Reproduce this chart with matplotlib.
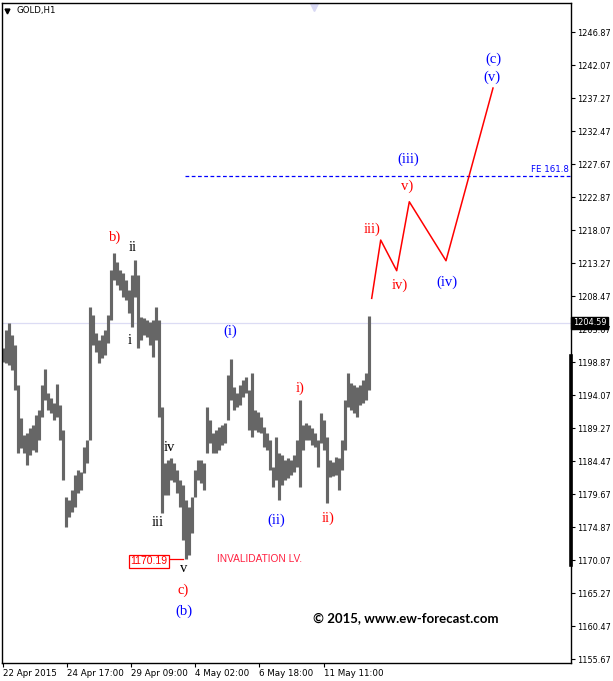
import numpy as np
import matplotlib.pyplot as plt
from matplotlib.transforms import blended_transform_factory

# GOLD H1 bars (3-hour groups), high / low
highs = [1200.90, 1203.52, 1204.54, 1202.79, 1201.34, 1195.52, 1190.72, 1188.25, 1188.54, 1189.27,
         1189.70, 1191.16, 1191.88, 1195.52, 1197.85, 1194.36, 1193.63, 1192.90, 1195.67, 1192.61,
         1188.97, 1179.23, 1178.79, 1180.25, 1182.43, 1183.16, 1182.87, 1186.50, 1187.52, 1206.87,
         1205.70, 1203.08, 1202.07, 1202.79, 1203.52, 1205.70, 1212.25, 1214.72, 1213.41, 1212.25,
         1211.81, 1210.79, 1209.34, 1211.52, 1213.70, 1211.52, 1205.41, 1205.27, 1204.97, 1204.68,
         1204.97, 1206.87, 1204.97, 1192.32, 1184.17, 1184.61, 1184.90, 1184.17, 1183.16, 1181.70,
         1180.97, 1178.79, 1177.77, 1179.23, 1183.16, 1184.61, 1184.61, 1184.17, 1192.32, 1190.43,
         1188.54, 1188.97, 1189.41, 1189.70, 1189.99, 1196.97, 1199.30, 1195.23, 1194.36, 1195.52,
         1196.25, 1196.68, 1194.79, 1197.27, 1191.88, 1191.59, 1190.87, 1189.41, 1188.54, 1187.52,
         1183.59, 1187.96, 1185.63, 1185.34, 1184.61, 1184.90, 1184.61, 1185.34, 1187.52, 1193.34,
         1189.70, 1189.99, 1189.70, 1189.27, 1188.54, 1187.52, 1191.45, 1190.43, 1187.96, 1184.61,
         1184.32, 1185.05, 1184.90, 1187.52, 1193.34, 1197.27, 1195.81, 1195.52, 1195.23, 1195.52,
         1196.25, 1197.27, 1205.56]
lows = [1198.87, 1198.72, 1198.43, 1197.70, 1194.79, 1185.63, 1186.36, 1185.63, 1183.88, 1185.34,
        1186.07, 1185.77, 1187.52, 1190.87, 1193.34, 1191.88, 1191.45, 1190.43, 1190.87, 1187.52,
        1181.70, 1174.87, 1176.32, 1177.05, 1177.77, 1179.81, 1180.25, 1182.72, 1184.17, 1187.52,
        1201.34, 1200.32, 1198.72, 1199.45, 1199.88, 1201.63, 1204.97, 1210.79, 1210.07, 1209.34,
        1208.32, 1207.88, 1205.99, 1203.96, 1208.32, 1200.90, 1202.07, 1202.79, 1202.50, 1201.34,
        1199.59, 1202.07, 1190.87, 1176.90, 1179.52, 1179.52, 1181.70, 1181.41, 1179.81, 1177.77,
        1172.97, 1170.19, 1170.79, 1173.99, 1179.23, 1181.70, 1181.27, 1180.25, 1185.63, 1187.08,
        1185.63, 1185.63, 1186.07, 1186.79, 1187.08, 1190.43, 1193.34, 1191.88, 1192.32, 1192.61,
        1193.77, 1194.36, 1188.97, 1187.96, 1188.97, 1188.68, 1188.54, 1186.50, 1186.07, 1183.16,
        1180.68, 1181.70, 1178.79, 1180.97, 1181.70, 1181.99, 1182.43, 1182.87, 1183.59, 1180.68,
        1186.07, 1187.52, 1187.52, 1186.79, 1186.50, 1183.59, 1187.08, 1186.07, 1178.36, 1182.14,
        1182.28, 1182.43, 1180.25, 1183.16, 1186.07, 1192.32, 1191.88, 1191.45, 1190.87, 1192.61,
        1192.90, 1193.34, 1194.79]
last_price = 1204.59
invalidation = 1170.19
fe_level = 1225.92

# projected path (hour index, price)
path_hours = [368.7, 377.7, 393.7, 406.3, 443.0, 490.0]
path_prices = [1208.13, 1216.61, 1212.15, 1222.18, 1213.60, 1238.72]

ytick_vals = [1155.67 + 4.8 * k for k in range(20)]
xtick_hours = [0, 64, 128, 192, 256, 321]
xtick_labels = ["22 Apr 2015", "24 Apr 17:00", "29 Apr 09:00", "4 May 02:00", "6 May 18:00", "11 May 11:00"]

RED = "#ff0000"
BLUE = "#0000ff"
BLACK = "#000000"
labels = [
    ("b)", 112, 1217.05, RED), ("ii", 130, 1215.59, BLACK), ("i", 127, 1202.07, BLACK),
    ("iv", 166, 1186.50, BLACK), ("iii", 155, 1175.59, BLACK), ("v", 181, 1168.90, BLACK),
    ("c)", 180, 1165.70, RED), ("(b)", 181, 1162.65, BLUE), ("(i)", 227, 1203.37, BLUE),
    ("(ii)", 273, 1175.88, BLUE), ("i)", 297, 1195.09, RED), ("ii)", 325, 1176.17, RED),
    ("iii)", 369, 1218.21, RED), ("iv)", 397, 1210.07, RED), ("v)", 404, 1224.47, RED),
    ("(iii)", 405, 1228.39, BLUE), ("(iv)", 444, 1210.50, BLUE), ("(c)", 490, 1242.94, BLUE),
    ("(v)", 489, 1240.32, BLUE),
]

W, H = 613, 681
fig = plt.figure(figsize=(W / 100, H / 100), dpi=100)
ax = fig.add_axes([2 / W, 1 - 663 / H, 569 / W, 660 / H])
ax.set_xlim(-1, 568)
ax.set_ylim(1155.09, 1251.09)

bar_x = np.arange(len(highs)) * 3
ax.vlines(bar_x, lows, highs, color="#666666", linewidth=2.25)

ax.axhline(last_price, color="#dcdcf4", linewidth=0.9, zorder=0)
ax.plot([182, 568], [fe_level, fe_level], color=BLUE, linestyle=(0, (3, 2)), linewidth=0.9)
ax.text(566, fe_level + 0.3, "FE 161.8", color=BLUE, fontsize=6.2, ha="right", va="bottom")

ax.plot(path_hours, path_prices, color=RED, linewidth=1.1)

for txt, hx, py, col in labels:
    ax.text(hx, py, txt, color=col, fontsize=10.5, family="Liberation Serif", ha="center", va="center")

ax.text(257, invalidation, "INVALIDATION LV.", color="#ff2040", fontsize=7.3,
        family="Liberation Sans", ha="center", va="center")
ax.plot([167, 180], [invalidation, invalidation], color=RED, linewidth=0.9)
ax.text(146, invalidation - 0.3, "1170.19", color=RED, fontsize=7.5, family="Liberation Sans",
        ha="center", va="center",
        bbox=dict(boxstyle="square,pad=0.15", facecolor="white", edgecolor=RED, linewidth=0.9))

ax.text(403, 1161.63, "\u00a9 2015, www.ew-forecast.com", fontsize=9.5, fontweight="bold",
        family="Lato", ha="center", va="center")

# header
ax.text(0.026, 0.988, "GOLD,H1", transform=ax.transAxes, fontsize=6.2, va="center", ha="left")
ax.plot([0.0095], [0.988], marker="v", color=BLACK, markersize=3.5, transform=ax.transAxes)
ax.plot([311], [1250.5], marker="v", color="#d8d8f4", markersize=6, clip_on=False)

# axes styling
for s in ["top", "bottom", "left", "right"]:
    ax.spines[s].set_linewidth(1.0)
ax.yaxis.tick_right()
ax.set_yticks(ytick_vals)
ax.set_yticklabels(["%.2f" % v for v in ytick_vals])
ax.set_xticks(xtick_hours)
ax.set_xticklabels(xtick_labels, ha="left")
ax.tick_params(axis="y", labelsize=5.9, length=3, width=0.8, pad=1.5)
ax.tick_params(axis="x", labelsize=6.3, length=3, width=0.8, pad=1.5)

tr = blended_transform_factory(ax.transAxes, ax.transData)
ax.plot([1, 1], [1199.7, 1169.3], color=BLACK, linewidth=2.6, transform=tr, clip_on=False)
ax.text(1.003, last_price, "%.2f" % last_price, transform=tr, fontsize=5.9, color="white",
        ha="left", va="center",
        bbox=dict(boxstyle="square,pad=0.2", facecolor="black", edgecolor="black"))

fig.savefig("out.png", dpi=100)
